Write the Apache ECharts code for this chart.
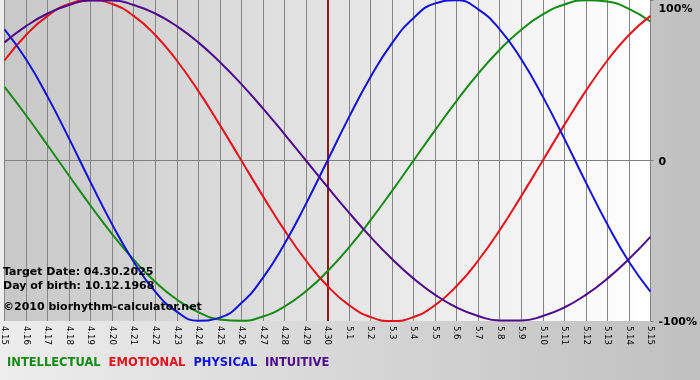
<!DOCTYPE html>
<html>
<head>
<meta charset="utf-8">
<script src="https://cdn.jsdelivr.net/npm/echarts@6/dist/echarts.min.js"></script>
<style>html,body{margin:0;padding:0;}#c{width:700px;height:380px;}</style>
</head>
<body>
<div id="c"></div>
<script>
const categories = ['4.15','4.16','4.17','4.18','4.19','4.20','4.21','4.22','4.23','4.24','4.25','4.26','4.27','4.28','4.29','4.30',
  '5.1','5.2','5.3','5.4','5.5','5.6','5.7','5.8','5.9','5.10','5.11','5.12','5.13','5.14','5.15'];
const intellectual = [45.8,28.2,9.5,-9.5,-28.2,-45.8,-61.8,-75.6,-86.6,-94.5,-99.0,-99.9,-97.2,-91.0,-81.5,-69.0,
  -54.1,-37.2,-18.9,0,18.9,37.2,54.1,69.0,81.5,91.0,97.2,99.9,99.0,94.5,86.6];
const emotional = [62.3,78.2,90.1,97.5,100,97.5,90.1,78.2,62.3,43.4,22.2,0,-22.2,-43.4,-62.3,-78.2,
  -90.1,-97.5,-100,-97.5,-90.1,-78.2,-62.3,-43.4,-22.2,0,22.2,43.4,62.3,78.2,90.1];
const physical = [81.7,63.1,39.8,13.6,-13.6,-39.8,-63.1,-81.7,-94.2,-99.8,-97.9,-88.8,-73.1,-52.0,-27.0,0,
  27.0,52.0,73.1,88.8,97.9,99.8,94.2,81.7,63.1,39.8,13.6,-13.6,-39.8,-63.1,-81.7];
const intuitive = [73.6,83.7,91.6,96.9,99.7,99.7,96.9,91.6,83.7,73.6,61.4,47.6,32.5,16.5,0,-16.5,
  -32.5,-47.6,-61.4,-73.6,-83.7,-91.6,-96.9,-99.7,-99.7,-96.9,-91.6,-83.7,-73.6,-61.4,-47.6];
const yTickValues = [-100, 0, 100];
const yTickLabels = ['-100%', '0', '100%'];
const targetDate = '4.30';
const infoLines = ['Target Date: 04.30.2025', 'Day of birth: 10.12.1968', '\u00a92010 biorhythm-calculator.net'];
const seriesNames = ['INTELLECTUAL', 'EMOTIONAL', 'PHYSICAL', 'INTUITIVE'];

const colors = ['#138a13', '#e8101a', '#1212dd', '#4f0a8c'];
const seriesData = [intellectual, emotional, physical, intuitive];

const chart = echarts.init(document.getElementById('c'), null, {renderer: 'canvas'});
const font = '"DejaVu Sans", Verdana, sans-serif';

const series = seriesNames.map((name, i) => ({
  name: name,
  type: 'line',
  data: seriesData[i],
  smooth: true,
  symbol: 'none',
  lineStyle: {color: colors[i], width: 2},
  itemStyle: {color: colors[i]},
  z: 3 + i,
  markLine: i === 0 ? {
    silent: true,
    symbol: 'none',
    label: {show: false},
    lineStyle: {color: '#8b1c1c', width: 2, type: 'solid'},
    data: [{xAxis: targetDate}],
    z: 2
  } : undefined
}));

const labelRich = {fontFamily: font, fontSize: 11, fontWeight: 'bold', color: '#000'};

chart.setOption({
  animation: false,
  backgroundColor: new echarts.graphic.LinearGradient(0, 0, 1, 0, [
    {offset: 0, color: '#ededed'}, {offset: 1, color: '#c0c0c0'}
  ]),
  grid: {
    left: 1, right: 49, top: 0, bottom: 59,
    show: true,
    borderWidth: 0,
    backgroundColor: new echarts.graphic.LinearGradient(0, 0, 1, 0, [
      {offset: 0, color: '#c8c8c8'}, {offset: 1, color: '#ffffff'}
    ])
  },
  legend: {
    left: -3, top: 352,
    itemWidth: 0, itemHeight: 0, itemGap: 3,
    icon: 'rect',
    selectedMode: false,
    textStyle: {fontFamily: font, fontSize: 11.5, fontWeight: 'bold'},
    data: seriesNames.map((n, i) => ({name: n, textStyle: {color: colors[i]}}))
  },
  xAxis: {
    type: 'category',
    data: categories,
    boundaryGap: false,
    axisLine: {show: true, lineStyle: {color: '#808080', width: 1}},
    axisTick: {show: true, length: 4, lineStyle: {color: '#808080'}},
    axisLabel: {
      interval: 0, rotate: -90, margin: 5,
      color: '#000', fontFamily: font, fontSize: 8.5
    },
    splitLine: {show: true, interval: 0, lineStyle: {color: '#858585', width: 1}}
  },
  yAxis: {
    type: 'value',
    position: 'right',
    min: -100, max: 100, interval: 100,
    axisLine: {show: false},
    axisTick: {show: true, length: 3, lineStyle: {color: '#808080'}},
    axisLabel: {
      margin: 8,
      color: '#000', fontFamily: font, fontSize: 11, fontWeight: 'bold',
      formatter: function (v) {
        const idx = yTickValues.indexOf(v);
        const t = idx >= 0 ? yTickLabels[idx] : '';
        return (v === 100 ? '{top|' : '{std|') + t + '}';
      },
      rich: {
        top: Object.assign({padding: [18, 0, 0, 0]}, labelRich),
        std: Object.assign({padding: [3, 0, 0, 0]}, labelRich)
      }
    },
    splitLine: {show: true, showMaxLine: false, showMinLine: false, lineStyle: {color: '#808080', width: 1}}
  },
  graphic: infoLines.map((t, i) => ({
    type: 'text',
    left: 3,
    top: [267, 281, 302][i],
    z: 10,
    style: {text: t, fill: '#000', font: 'bold 11px ' + font}
  })),
  series: series
});
</script>
</body>
</html>
